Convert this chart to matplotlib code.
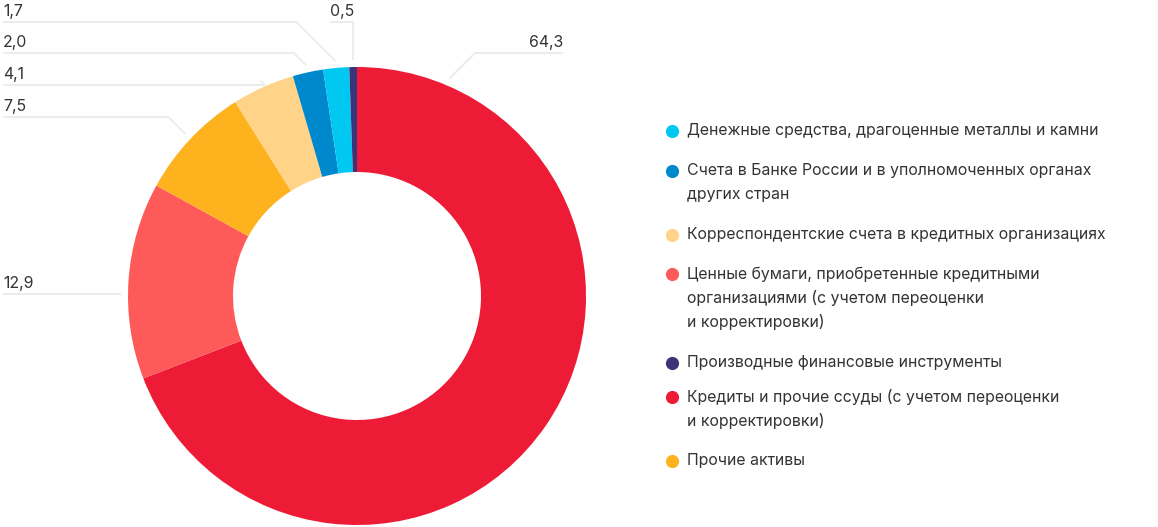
import numpy as np
import matplotlib
matplotlib.use('Agg')
import matplotlib.pyplot as plt

plt.rcParams['font.family'] = ['Inter', 'DejaVu Sans']

# categories in legend order
categories = [
    'Денежные средства, драгоценные металлы и камни',
    'Счета в Банке России и в уполномоченных органах\nдругих стран',
    'Корреспондентские счета в кредитных организациях',
    'Ценные бумаги, приобретенные кредитными\nорганизациями (с учетом переоценки\nи корректировки)',
    'Производные финансовые инструменты',
    'Кредиты и прочие ссуды (с учетом переоценки\nи корректировки)',
    'Прочие активы',
]
shares = [1.7, 2.0, 4.1, 12.9, 0.5, 64.3, 7.5]
colors = ['#00C8F0', '#0088CC', '#FFD488', '#FF5A5A', '#3D3378', '#ED1B36', '#FDB21E']
# slice order, clockwise from 12 o'clock
pie_order = [5, 3, 6, 2, 1, 0, 4]

W, H = 1158, 527
cx, cy = 357, 296       # pixel coords, y from top
R, r_in = 229, 124
text_col = '#333333'
line_col = '#ececec'
fs = 11.4

fig = plt.figure(figsize=(W / 100, H / 100), dpi=100)
ax = fig.add_axes([0, 0, 1, 1])

wedges, _ = ax.pie([shares[i] for i in pie_order],
                   colors=[colors[i] for i in pie_order],
                   startangle=90, counterclock=False,
                   radius=R, center=(cx, H - cy),
                   wedgeprops=dict(width=R - r_in, linewidth=0))
ax.set_xlim(0, W)
ax.set_ylim(0, H)
ax.set_aspect('equal')
ax.axis('off')

# value labels: (category, text x, line y, side, style, angle override)
label_layout = [
    (0, 3, 22, 'left', 'diag', None),
    (1, 3, 53, 'left', 'diag', None),
    (2, 3, 85, 'left', 'diag', None),
    (6, 3, 117, 'left', 'diag', None),
    (3, 3, 294, 'left', 'flat', None),
    (4, 330, 22, 'left', 'vert', None),
    (5, 563, 53, 'right', 'diag', 67),
]
re = R + 7
for k, tx, ly, side, style, ang in label_layout:
    w = wedges[pie_order.index(k)]
    mid = ang if ang is not None else (w.theta1 + w.theta2) / 2
    ex = cx + re * np.cos(np.radians(mid))
    ey = cy - re * np.sin(np.radians(mid))
    if style == 'flat':
        ey = ly
        ex = cx - np.sqrt(re ** 2 - (ly - cy) ** 2)
        elx = ex
    elif style == 'vert':
        elx = ex
    else:
        d = ey - ly
        elx = ex - d if side == 'left' else ex + d
    ax.plot([tx, elx, ex], [H - ly, H - ly, H - ey], color=line_col, lw=1.4,
            solid_capstyle='butt', zorder=1)
    ax.text(tx, H - ly + 6, f'{shares[k]:.1f}'.replace('.', ','), fontsize=fs,
            color=text_col, ha=side, va='baseline')

# legend, first-line y of each entry
legend_y = [131, 171, 235, 274, 363, 397, 461]
lx = 687
for i, cat in enumerate(categories):
    ty = legend_y[i]
    ax.scatter([672], [H - ty], s=90, color=colors[i], linewidths=0, zorder=3)
    for j, ln in enumerate(cat.split('\n')):
        ax.text(lx, H - (ty + 24 * j), ln, fontsize=fs, color=text_col,
                ha='left', va='center')

fig.savefig('out.png', dpi=100)
